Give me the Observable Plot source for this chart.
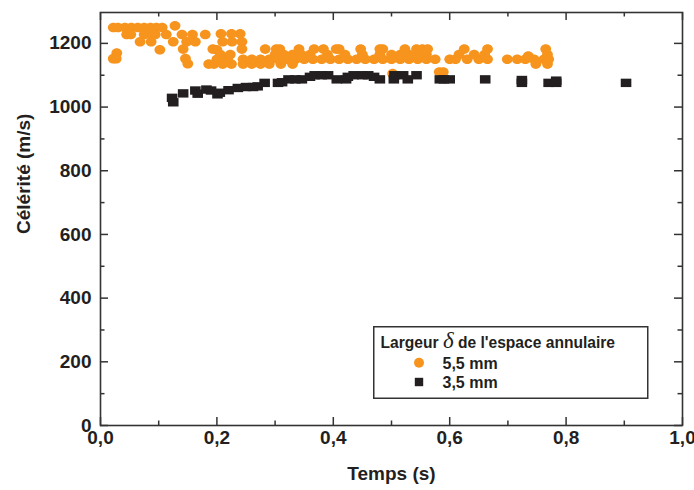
<!DOCTYPE html>
<html>
<head>
<meta charset="utf-8">
<script src="https://cdn.jsdelivr.net/npm/d3@7"></script>
<script src="https://cdn.jsdelivr.net/npm/@observablehq/plot@0.6"></script>
<style>
  html, body { margin: 0; padding: 0; background: #fff; }
  #wrap { position: relative; width: 694px; height: 490px; overflow: hidden; }
  #legend { position: absolute; left: 373px; top: 326px; }
</style>
</head>
<body>
<div id="wrap"></div>
<script>
// ---- Data ----
const seriesNames = ["5,5 mm", "3,5 mm"];
const seriesColors = ["#F7941D", "#231F20"];
const legendTitle = ["Largeur ", "δ", " de l'espace annulaire"];
const xLabel = "Temps (s)";
const yLabel = "Célérité (m/s)";

const xTicksMajor = [0, 0.2, 0.4, 0.6, 0.8, 1.0];
const xTicksMinor = [0.1, 0.3, 0.5, 0.7, 0.9];
const yTicksMajor = [0, 200, 400, 600, 800, 1000, 1200];
const yTicksMinor = [100, 300, 500, 700, 900, 1100];

// 5,5 mm (orange circles): time (s), celerity (m/s)
const t55 = [
  0.022,0.030,0.042,0.053,0.064,0.075,0.086,0.096,0.106,0.128,
  0.045,0.052,0.075,0.086,0.094,0.113,0.140,0.158,0.180,0.207,0.225,0.240,
  0.068,0.087,0.125,0.148,0.163,0.210,0.226,0.243,
  0.102,0.142,0.193,0.200,0.243,
  0.028,0.022,0.027,0.146,0.150,0.186,
  0.195,0.210,0.225,0.245,0.260,0.275,0.290,0.310,0.330,
  0.200,0.218,0.245,0.260,0.275,0.290,0.305,0.320,0.335,0.350,0.365,0.380,0.395,0.410,0.425,0.440,0.455,0.470,0.485,0.500,0.515,0.530,0.545,0.560,0.575,
  0.206,0.223,0.300,0.315,0.330,0.345,0.360,0.390,0.420,0.450,0.480,0.500,0.515,0.530,0.545,0.560,
  0.283,0.302,0.308,0.341,0.367,0.383,0.405,0.410,0.447,0.480,0.485,0.523,0.543,0.553,0.562,
  0.502,0.582,0.589,
  0.600,0.610,0.630,0.650,0.665,0.699,0.716,0.730,0.745,0.762,0.770,
  0.616,0.642,0.660,0.735,0.768,
  0.625,0.665,0.765,
  0.748,0.768
];
const c55 = [
  1250,1250,1250,1250,1250,1250,1250,1250,1250,1255,
  1228,1228,1228,1228,1228,1228,1228,1228,1228,1230,1230,1230,
  1205,1205,1205,1205,1205,1205,1205,1205,
  1180,1182,1182,1180,1182,
  1170,1152,1152,1152,1136,1135,
  1135,1135,1135,1135,1135,1135,1135,1135,1135,
  1150,1150,1150,1150,1150,1150,1150,1150,1150,1150,1150,1150,1150,1150,1150,1150,1150,1150,1150,1150,1150,1150,1150,1150,1150,
  1165,1165,1165,1165,1165,1165,1165,1165,1165,1165,1165,1165,1165,1165,1165,1165,
  1182,1182,1182,1182,1182,1182,1182,1182,1182,1182,1182,1182,1182,1182,1182,
  1105,1110,1110,
  1150,1150,1150,1150,1150,1150,1150,1150,1150,1150,1150,
  1165,1165,1165,1160,1165,
  1182,1182,1182,
  1135,1135
];

// 3,5 mm (black squares)
const t35 = [
  0.123,0.125,0.142,0.163,0.167,0.182,0.190,0.201,0.205,0.220,0.236,0.250,0.262,0.270,
  0.282,0.305,0.312,0.323,0.335,0.346,0.360,0.368,0.380,0.391,0.406,0.422,0.425,0.435,
  0.450,0.460,0.470,0.480,0.504,0.505,0.520,0.528,0.543,0.583,0.590,0.600,0.661,
  0.724,0.724,0.770,0.783,0.783,0.903
];
const c35 = [
  1029,1015,1043,1052,1042,1055,1052,1040,1045,1053,1060,1063,1063,1065,
  1076,1076,1078,1087,1087,1087,1095,1100,1100,1100,1087,1087,1095,1100,
  1100,1100,1095,1087,1087,1100,1100,1087,1100,1087,1087,1087,1087,
  1076,1085,1076,1083,1076,1076
];

const d55 = t55.map((t, i) => ({t, c: c55[i]}));
const d35 = t35.map((t, i) => ({t, c: c35[i]}));

// custom marker shapes (slightly wide, like the reference)
const ellipseSym = {draw(ctx) {
  const a = 5.4, b = 4.8, k = 0.5523;
  ctx.moveTo(a, 0);
  ctx.bezierCurveTo(a, b * k, a * k, b, 0, b);
  ctx.bezierCurveTo(-a * k, b, -a, b * k, -a, 0);
  ctx.bezierCurveTo(-a, -b * k, -a * k, -b, 0, -b);
  ctx.bezierCurveTo(a * k, -b, a, -b * k, a, 0);
  ctx.closePath();
}};
const rectSym = {draw(ctx) { ctx.rect(-5.3, -4.2, 10.6, 8.4); }};

const W = 694, H = 490;
const mL = 100, mR = 12, mT = 12, mB = 65;
const pw = W - mL - mR, ph = H - mT - mB;
const tickCol = "#333";
const major = 8, minor = 4.5;
const fmtX = d => d.toFixed(1).replace(".", ",");
const fmtY = d => String(d);

const chart = Plot.plot({
  width: W, height: H,
  marginLeft: mL, marginRight: mR, marginTop: mT, marginBottom: mB,
  style: {fontFamily: "'Liberation Sans', Arial, sans-serif", fontSize: "19px", fontWeight: "bold", color: "#231F20", background: "#fff"},
  x: {domain: [0, 1], axis: null},
  y: {domain: [0, 1297], axis: null},
  marks: [
    Plot.tickX(xTicksMajor, {x: d => d, insetTop: ph - major, stroke: tickCol, strokeWidth: 1.5}),
    Plot.tickX(xTicksMinor, {x: d => d, insetTop: ph - minor, stroke: tickCol, strokeWidth: 1.5}),
    Plot.tickX(xTicksMajor, {x: d => d, insetBottom: ph - major, stroke: tickCol, strokeWidth: 1.5}),
    Plot.tickX(xTicksMinor, {x: d => d, insetBottom: ph - minor, stroke: tickCol, strokeWidth: 1.5}),
    Plot.tickY(yTicksMajor, {y: d => d, insetRight: pw - major, stroke: tickCol, strokeWidth: 1.5}),
    Plot.tickY(yTicksMinor, {y: d => d, insetRight: pw - minor, stroke: tickCol, strokeWidth: 1.5}),
    Plot.tickY(yTicksMajor, {y: d => d, insetLeft: pw - major, stroke: tickCol, strokeWidth: 1.5}),
    Plot.tickY(yTicksMinor, {y: d => d, insetLeft: pw - minor, stroke: tickCol, strokeWidth: 1.5}),
    Plot.axisX({ticks: xTicksMajor, tickSize: 0, tickPadding: 5, tickFormat: fmtX, label: null, fill: "#231F20"}),
    Plot.axisY({ticks: yTicksMajor, tickSize: 0, tickPadding: 9, tickFormat: fmtY, label: null, fill: "#231F20"}),
    Plot.dot(d55, {x: "t", y: "c", symbol: ellipseSym, fill: seriesColors[0], stroke: "none"}),
    Plot.dot(d35, {x: "t", y: "c", symbol: rectSym, fill: seriesColors[1], stroke: "none"}),
    Plot.frame({stroke: "#333", strokeWidth: 1.6}),
    Plot.text([xLabel], {text: d => d, frameAnchor: "bottom", dy: 54, fill: "#231F20"}),
    Plot.text([yLabel], {text: d => d, frameAnchor: "left", dx: -77, dy: 15, rotate: -90, fill: "#231F20"})
  ]
});

const wrap = document.getElementById("wrap");
wrap.appendChild(chart);

// ---- Legend (overlay) ----
const lg = d3.select(wrap).append("svg")
  .attr("id", "legend")
  .attr("width", 276).attr("height", 74)
  .style("font-family", "'Liberation Sans', Arial, sans-serif")
  .style("font-weight", "bold");
lg.append("rect").attr("x", 0.75).attr("y", 0.75).attr("width", 274).attr("height", 71.5)
  .attr("fill", "#fff").attr("stroke", "#333").attr("stroke-width", 1.5);
const title = lg.append("text").attr("x", 7.5).attr("y", 21.5).attr("font-size", 15.6).attr("fill", "#231F20");
title.append("tspan").text(legendTitle[0]);
title.append("tspan").text(legendTitle[1])
  .attr("font-family", "'Liberation Serif', 'DejaVu Serif', serif")
  .attr("font-style", "italic").attr("font-weight", "normal").attr("font-size", 23);
title.append("tspan").text(legendTitle[2]);

const rowsY = [36.8, 56];
lg.append("circle").attr("cx", 46).attr("cy", rowsY[0]).attr("r", 5).attr("fill", seriesColors[0]);
lg.append("rect").attr("x", 46 - 4.2).attr("y", rowsY[1] - 4.2).attr("width", 8.4).attr("height", 8.4).attr("fill", seriesColors[1]);
seriesNames.forEach((n, i) => {
  lg.append("text").attr("x", 69.5).attr("y", rowsY[i] + 5.8).attr("font-size", 16)
    .attr("fill", "#231F20").text(n);
});
</script>
</body>
</html>
